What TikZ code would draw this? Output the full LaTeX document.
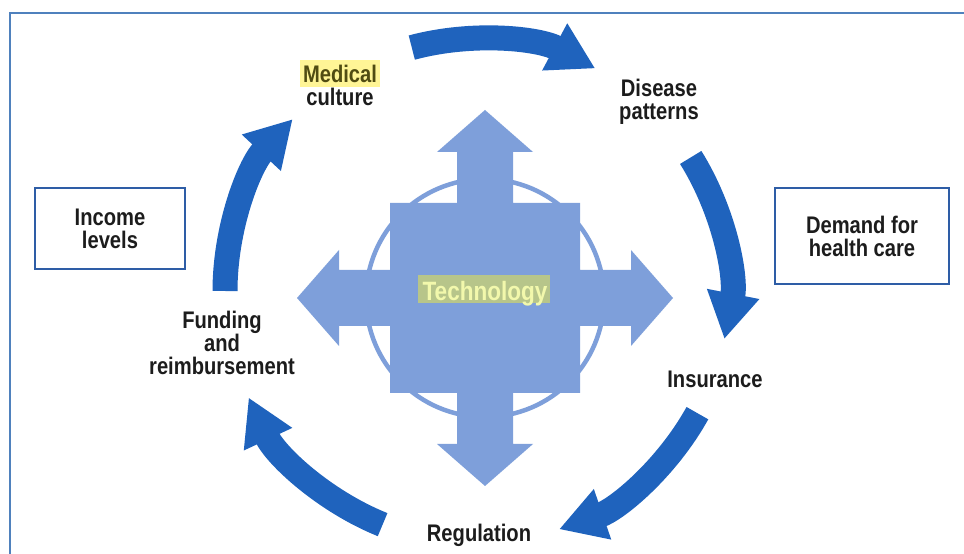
\documentclass[tikz,border=0pt]{standalone}
\usepackage{fontspec}
\setmainfont{Liberation Sans}
\newfontfamily\lblfont[FakeStretch=0.84]{Liberation Sans}
\newfontfamily\techfont[FakeStretch=0.85]{Liberation Sans}
\usetikzlibrary{arrows.meta}
\definecolor{cycblue}{RGB}{31,99,189}
\definecolor{techblue}{RGB}{126,159,218}
\definecolor{framecol}{RGB}{79,129,189}
\definecolor{boxcol}{RGB}{46,93,166}
\definecolor{txt}{RGB}{28,28,28}
\definecolor{medhl}{RGB}{255,245,150}
\definecolor{medtxt}{RGB}{80,76,18}
\definecolor{techhl}{RGB}{183,197,138}
\definecolor{techtxt}{RGB}{242,248,172}
\begin{document}
\begin{tikzpicture}[x=1pt,y=1pt,
  lbl/.style={font=\lblfont\bfseries\fontsize{24}{23}\selectfont, text=txt, align=center, inner sep=0pt},
  techlbl/.style={font=\techfont\bfseries\fontsize{26.5}{28}\selectfont, text=techtxt, inner sep=0pt},
  boxnode/.style={lbl, draw=boxcol, line width=2pt},
  cyc/.style={draw=cycblue, line width=25pt, -{Triangle[width=50pt,length=46pt]}},
  frameline/.style={draw=framecol, line width=2.2pt}]
\useasboundingbox (0,0) rectangle (964,554);
% frame (top and left only)
\draw[frameline] (10,0) -- (10,541) -- (964,541);

% centre: circle, cross of arrows, square
\coordinate (T) at (485,256);
\draw[techblue, line width=4.5pt] (T) circle[radius=119];
\begin{scope}[shift={(T)}]
\fill[techblue] (28,95) -- (28,146) -- (48,146) -- (0,188) -- (-48,146) -- (-28,146) -- (-28,95)
  -- (-95,95) -- (-95,28) -- (-146,28) -- (-146,48) -- (-188,0) -- (-146,-48) -- (-146,-28) -- (-95,-28)
  -- (-95,-95) -- (-28,-95) -- (-28,-146) -- (-48,-146) -- (0,-188) -- (48,-146) -- (28,-146) -- (28,-95)
  -- (95,-95) -- (95,-28) -- (146,-28) -- (146,-48) -- (188,0) -- (146,48) -- (146,28) -- (95,28)
  -- (95,95) -- cycle;
\end{scope}
\fill[techhl] (418,251) rectangle (550,279);
\node[techlbl, anchor=base] (tech) at (485,253) {Technology};

% cycle arrows
\coordinate (C) at (477,263);
\draw[cyc] (C) ++(105:252) arc[start angle=105, end angle=62, radius=252];
\draw[cyc] (C) ++(32:252) arc[start angle=32, end angle=-11, radius=252];
\draw[cyc] (C) ++(-29:252) arc[start angle=-29, end angle=-71, radius=252];
\draw[cyc] (C) ++(-112:252) arc[start angle=-112, end angle=-155, radius=252];
\draw[cyc] (C) ++(180:252) arc[start angle=180, end angle=137, radius=252];

% labels
\fill[medhl] (300,467) rectangle (380,494);
\node[lbl] (med) at (340,468.5) {{\color{medtxt}Medical}\\culture};
\node[lbl] (dis) at (659,452.5) {Disease\\patterns};
\node[lbl, anchor=base] (ins) at (715,166) {Insurance};
\node[lbl, anchor=base] (reg) at (479,12) {Regulation};
\node[lbl] (fund) at (222,211) {Funding\\and\\reimbursement};

% boxes
\node[boxnode, minimum width=150, minimum height=81] (inc) at (110,325.5) {Income\\levels};
\node[boxnode, minimum width=174, minimum height=96] (dem) at (862,318) {Demand for\\health care};
\end{tikzpicture}
\end{document}
